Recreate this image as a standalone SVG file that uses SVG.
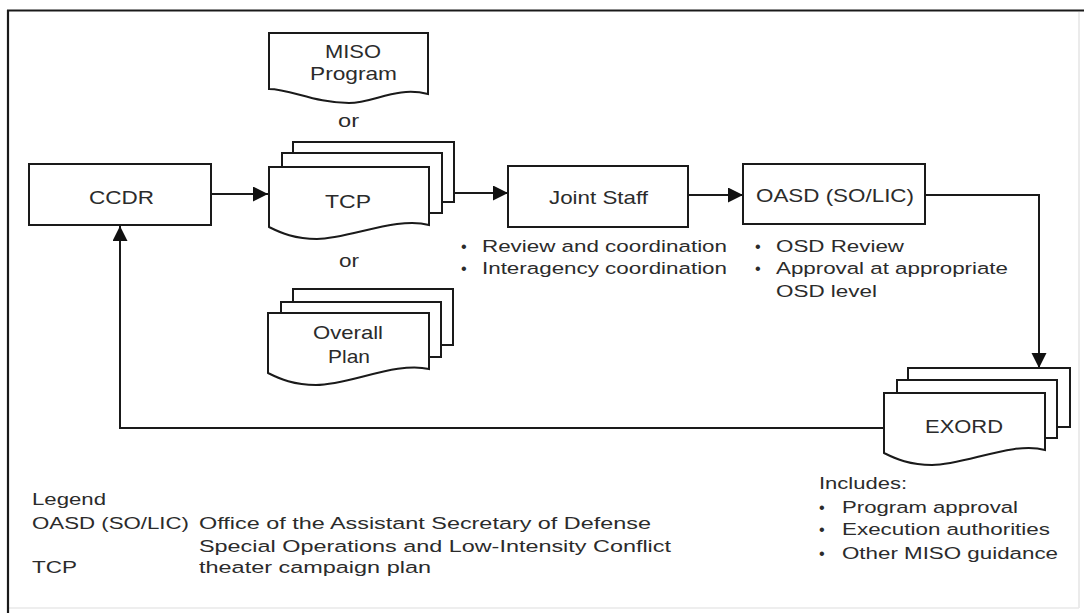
<svg xmlns="http://www.w3.org/2000/svg" width="1084" height="613" viewBox="0 0 1084 613">
<style>
.shape{fill:#fff;stroke:#1a1a1a;stroke-width:2}
.conn{fill:none;stroke:#1a1a1a;stroke-width:2}
.lbl{font-family:"Liberation Sans",Arial,sans-serif;font-size:18.5px;fill:#2b2b2b}
.txt{font-family:"Liberation Sans",Arial,sans-serif;font-size:16.3px;fill:#2b2b2b}
</style>
<defs>
<marker id="arr" markerUnits="userSpaceOnUse" markerWidth="16" markerHeight="16" refX="15" refY="7.5" orient="auto">
<path d="M0,0 L15,7.5 L0,15 Z" fill="#111"/>
</marker>
</defs>
<rect width="1084" height="613" fill="#fff"/>
<g id="frame">
<line x1="1079" y1="12" x2="1079" y2="608" stroke="#e4e4e4" stroke-width="1.5"/>
<line x1="9" y1="608" x2="1079" y2="608" stroke="#e8e8e8" stroke-width="1.5"/>
<line x1="7" y1="10.5" x2="1084" y2="10.5" stroke="#1a1a1a" stroke-width="2.2"/>
<line x1="8" y1="10" x2="8" y2="613" stroke="#1a1a1a" stroke-width="2.2"/>
</g>
<g id="connectors">
<line class="conn" x1="211" y1="194" x2="268" y2="194" marker-end="url(#arr)"/>
<line class="conn" x1="454" y1="193" x2="508" y2="193" marker-end="url(#arr)"/>
<line class="conn" x1="688" y1="195" x2="743" y2="195" marker-end="url(#arr)"/>
<path class="conn" d="M925,195 H1039 V368" marker-end="url(#arr)"/>
<path class="conn" d="M884,428 H120 V226" marker-end="url(#arr)"/>
</g>
<g id="ccdr">
<rect class="shape" x="29" y="164" width="182" height="61"/>
<text class="lbl" x="89" y="204" textLength="65" lengthAdjust="spacingAndGlyphs">CCDR</text>
</g>
<g id="miso-program">
<path class="shape" d="M269,33 H428 V94 C396,86 374,103 349,103 C315,103 290,89 269,89 Z"/>
<text class="lbl" x="325" y="58" textLength="56" lengthAdjust="spacingAndGlyphs">MISO</text>
<text class="lbl" x="310" y="80" textLength="87" lengthAdjust="spacingAndGlyphs">Program</text>
</g>
<g id="or-1">
<text class="lbl" x="338" y="127" textLength="21" lengthAdjust="spacingAndGlyphs">or</text>
</g>
<g id="tcp">
<rect class="shape" x="293" y="142" width="161" height="60"/>
<rect class="shape" x="282" y="153" width="160" height="60"/>
<path class="shape" d="M269,167 H429 V225 C397,216 349,239 317,239 C295,239 281,233 269,227 Z"/>
<text class="lbl" x="325" y="208" textLength="46" lengthAdjust="spacingAndGlyphs">TCP</text>
</g>
<g id="or-2">
<text class="lbl" x="339" y="267" textLength="20" lengthAdjust="spacingAndGlyphs">or</text>
</g>
<g id="overall-plan">
<rect class="shape" x="293" y="289" width="160" height="56"/>
<rect class="shape" x="281" y="302" width="160" height="55"/>
<path class="shape" d="M268,313 H429 V369 C397,361 349,385 316,385 C294,385 280,379 268,373 Z"/>
<text class="lbl" x="313" y="339" textLength="70" lengthAdjust="spacingAndGlyphs">Overall</text>
<text class="lbl" x="328" y="363" textLength="42" lengthAdjust="spacingAndGlyphs">Plan</text>
</g>
<g id="joint-staff">
<rect class="shape" x="508" y="166" width="180" height="61"/>
<text class="lbl" x="549" y="204" textLength="99" lengthAdjust="spacingAndGlyphs">Joint Staff</text>
<text class="txt" x="461" y="252">•</text>
<text class="txt" x="482" y="252" textLength="245" lengthAdjust="spacingAndGlyphs">Review and coordination</text>
<text class="txt" x="461" y="274">•</text>
<text class="txt" x="482" y="274" textLength="245" lengthAdjust="spacingAndGlyphs">Interagency coordination</text>
</g>
<g id="oasd">
<rect class="shape" x="743" y="164" width="182" height="60"/>
<text class="lbl" x="756" y="202" textLength="158" lengthAdjust="spacingAndGlyphs">OASD (SO/LIC)</text>
<text class="txt" x="755" y="252">•</text>
<text class="txt" x="776" y="252" textLength="128" lengthAdjust="spacingAndGlyphs">OSD Review</text>
<text class="txt" x="755" y="274">•</text>
<text class="txt" x="776" y="274" textLength="232" lengthAdjust="spacingAndGlyphs">Approval at appropriate</text>
<text class="txt" x="776" y="297" textLength="101" lengthAdjust="spacingAndGlyphs">OSD level</text>
</g>
<g id="exord">
<rect class="shape" x="908" y="368" width="162" height="59"/>
<rect class="shape" x="897" y="380" width="160" height="58"/>
<path class="shape" d="M884,393 H1045 V450 C1013,441 965,465 932,465 C910,465 896,459 884,453 Z"/>
<text class="lbl" x="925" y="433" textLength="78" lengthAdjust="spacingAndGlyphs">EXORD</text>
<text class="txt" x="819" y="489" textLength="88" lengthAdjust="spacingAndGlyphs">Includes:</text>
<text class="txt" x="819" y="513">•</text>
<text class="txt" x="842" y="513" textLength="176" lengthAdjust="spacingAndGlyphs">Program approval</text>
<text class="txt" x="819" y="535">•</text>
<text class="txt" x="842" y="535" textLength="208" lengthAdjust="spacingAndGlyphs">Execution authorities</text>
<text class="txt" x="819" y="559">•</text>
<text class="txt" x="842" y="559" textLength="216" lengthAdjust="spacingAndGlyphs">Other MISO guidance</text>
</g>
<g id="legend">
<text class="txt" x="32" y="505" textLength="74" lengthAdjust="spacingAndGlyphs">Legend</text>
<text class="txt" x="32" y="529" textLength="157" lengthAdjust="spacingAndGlyphs">OASD (SO/LIC)</text>
<text class="txt" x="199" y="529" textLength="452" lengthAdjust="spacingAndGlyphs">Office of the Assistant Secretary of Defense</text>
<text class="txt" x="199" y="552" textLength="472" lengthAdjust="spacingAndGlyphs">Special Operations and Low-Intensity Conflict</text>
<text class="txt" x="32" y="573" textLength="45" lengthAdjust="spacingAndGlyphs">TCP</text>
<text class="txt" x="199" y="573" textLength="232" lengthAdjust="spacingAndGlyphs">theater campaign plan</text>
</g>
</svg>
